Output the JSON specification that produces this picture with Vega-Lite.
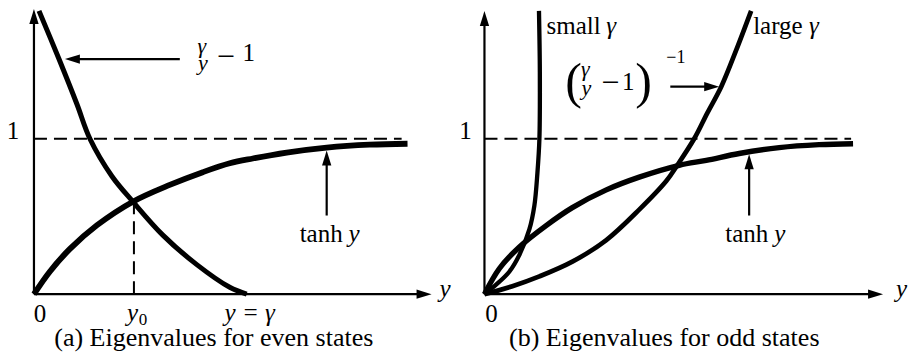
{
  "$schema": "https://vega.github.io/schema/vega-lite/v6.json",
  "width": 908,
  "height": 362,
  "autosize": {"type": "fit", "contains": "padding"},
  "padding": 0,
  "background": "white",
  "config": {"view": {"stroke": null}, "font": "Liberation Serif, Times New Roman, DejaVu Serif, serif"},
  "datasets": {
    "curvesA": [
      {"c": "tanh", "i": 0, "x": 0, "y": 0},
      {"c": "tanh", "i": 1, "x": 0.111, "y": 0.146},
      {"c": "tanh", "i": 2, "x": 0.25, "y": 0.291},
      {"c": "tanh", "i": 3, "x": 0.4375, "y": 0.443},
      {"c": "tanh", "i": 4, "x": 0.6875, "y": 0.595},
      {"c": "tanh", "i": 5, "x": 0.944, "y": 0.703},
      {"c": "tanh", "i": 6, "x": 1.174, "y": 0.785},
      {"c": "tanh", "i": 7, "x": 1.361, "y": 0.842},
      {"c": "tanh", "i": 8, "x": 1.521, "y": 0.873},
      {"c": "tanh", "i": 9, "x": 1.757, "y": 0.911},
      {"c": "tanh", "i": 10, "x": 2.035, "y": 0.943},
      {"c": "tanh", "i": 11, "x": 2.333, "y": 0.962},
      {"c": "tanh", "i": 12, "x": 2.597, "y": 0.968},
      {"c": "recip", "i": 0, "x": 0.035, "y": 1.823},
      {"c": "recip", "i": 1, "x": 0.174, "y": 1.513},
      {"c": "recip", "i": 2, "x": 0.299, "y": 1.222},
      {"c": "recip", "i": 3, "x": 0.389, "y": 1.0},
      {"c": "recip", "i": 4, "x": 0.542, "y": 0.759},
      {"c": "recip", "i": 5, "x": 0.688, "y": 0.595},
      {"c": "recip", "i": 6, "x": 0.896, "y": 0.38},
      {"c": "recip", "i": 7, "x": 1.132, "y": 0.19},
      {"c": "recip", "i": 8, "x": 1.361, "y": 0.044},
      {"c": "recip", "i": 9, "x": 1.479, "y": 0}
    ],
    "curvesB": [
      {"c": "tanh", "i": 0, "x": 0, "y": 0},
      {"c": "tanh", "i": 1, "x": 0.104, "y": 0.165},
      {"c": "tanh", "i": 2, "x": 0.243, "y": 0.304},
      {"c": "tanh", "i": 3, "x": 0.431, "y": 0.443},
      {"c": "tanh", "i": 4, "x": 0.611, "y": 0.557},
      {"c": "tanh", "i": 5, "x": 0.847, "y": 0.671},
      {"c": "tanh", "i": 6, "x": 1.076, "y": 0.753},
      {"c": "tanh", "i": 7, "x": 1.354, "y": 0.829},
      {"c": "tanh", "i": 8, "x": 1.542, "y": 0.861},
      {"c": "tanh", "i": 9, "x": 1.771, "y": 0.905},
      {"c": "tanh", "i": 10, "x": 2.049, "y": 0.943},
      {"c": "tanh", "i": 11, "x": 2.326, "y": 0.962},
      {"c": "tanh", "i": 12, "x": 2.5625, "y": 0.968},
      {"c": "small", "i": 0, "x": 0, "y": 0},
      {"c": "small", "i": 1, "x": 0.083, "y": 0.063},
      {"c": "small", "i": 2, "x": 0.174, "y": 0.146},
      {"c": "small", "i": 3, "x": 0.243, "y": 0.253},
      {"c": "small", "i": 4, "x": 0.3125, "y": 0.418},
      {"c": "small", "i": 5, "x": 0.347, "y": 0.57},
      {"c": "small", "i": 6, "x": 0.368, "y": 0.778},
      {"c": "small", "i": 7, "x": 0.382, "y": 1.0},
      {"c": "small", "i": 8, "x": 0.385, "y": 1.43},
      {"c": "small", "i": 9, "x": 0.379, "y": 1.823},
      {"c": "large", "i": 0, "x": 0, "y": 0},
      {"c": "large", "i": 1, "x": 0.194, "y": 0.051},
      {"c": "large", "i": 2, "x": 0.382, "y": 0.114},
      {"c": "large", "i": 3, "x": 0.611, "y": 0.209},
      {"c": "large", "i": 4, "x": 0.847, "y": 0.348},
      {"c": "large", "i": 5, "x": 1.076, "y": 0.544},
      {"c": "large", "i": 6, "x": 1.264, "y": 0.728},
      {"c": "large", "i": 7, "x": 1.34, "y": 0.829},
      {"c": "large", "i": 8, "x": 1.458, "y": 1.0},
      {"c": "large", "i": 9, "x": 1.549, "y": 1.165},
      {"c": "large", "i": 10, "x": 1.646, "y": 1.335},
      {"c": "large", "i": 11, "x": 1.75, "y": 1.57},
      {"c": "large", "i": 12, "x": 1.854, "y": 1.823}
    ]
  },
  "resolve": {"scale": {"x": "independent"}},
  "layer": [
    {
      "encoding": {
        "x": {"field": "x", "type": "quantitative", "scale": {"domain": [-0.2361, 6.0694], "nice": false, "zero": false}, "axis": null},
        "y": {"field": "y", "type": "quantitative", "scale": {"domain": [-0.4367, 1.8544], "nice": false, "zero": false}, "axis": null}
      },
      "layer": [
        {
          "data": {"values": [
            {"x": 0, "y": 0, "x2": 0, "y2": 1.79},
            {"x": 0, "y": 0, "x2": 2.72, "y2": 0},
            {"x": 1.014, "y": 1.513, "x2": 0.26, "y2": 1.513},
            {"x": 2.035, "y": 0.506, "x2": 2.035, "y2": 0.88}
          ]},
          "mark": {"type": "rule", "strokeWidth": 2.2, "color": "black"},
          "encoding": {"x2": {"field": "x2"}, "y2": {"field": "y2"}}
        },
        {
          "data": {"values": [
            {"x": 0, "y": 1.0, "x2": 2.556, "y2": 1.0},
            {"x": 0.695, "y": 0, "x2": 0.695, "y2": 0.59}
          ]},
          "mark": {"type": "rule", "strokeWidth": 2, "strokeDash": [13, 7], "color": "black"},
          "encoding": {"x2": {"field": "x2"}, "y2": {"field": "y2"}}
        },
        {
          "data": {"values": [
            {"d": "up", "x": 0, "y": 1.835},
            {"d": "right", "x": 2.764, "y": 0},
            {"d": "left", "x": 0.215, "y": 1.513},
            {"d": "up", "x": 2.035, "y": 0.925}
          ]},
          "mark": {"type": "point", "filled": true, "size": 225, "color": "black", "opacity": 1, "strokeWidth": 0},
          "encoding": {"shape": {"field": "d", "type": "nominal", "legend": null, "scale": {"domain": ["up", "right", "left"], "range": ["M0,0L-0.62,2L0.62,2Z", "M0,0L-2,-0.62L-2,0.62Z", "M0,0L2,-0.62L2,0.62Z"]}}}
        },
        {
          "data": {"name": "curvesA"},
          "transform": [{"filter": "datum.c === 'tanh'"}],
          "mark": {"type": "line", "interpolate": "catmull-rom", "strokeWidth": 5.8, "color": "black", "strokeCap": "butt"},
          "encoding": {"order": {"field": "i", "type": "quantitative"}}
        },
        {
          "data": {"name": "curvesA"},
          "transform": [{"filter": "datum.c === 'recip'"}],
          "mark": {"type": "line", "interpolate": "catmull-rom", "strokeWidth": 5, "color": "black", "strokeCap": "butt"},
          "encoding": {"order": {"field": "i", "type": "quantitative"}}
        },
        {
          "data": {"values": [
            {"t": "1", "x": -0.146, "y": 1.0},
            {"t": "0", "x": 0.042, "y": -0.177},
            {"t": "1", "x": 1.493, "y": 1.5}
          ]},
          "mark": {"type": "text", "font": "Liberation Serif, Times New Roman, DejaVu Serif, serif", "color": "black", "baseline": "alphabetic", "fontSize": 25, "align": "center"},
          "encoding": {"text": {"field": "t"}}
        },
        {
          "data": {"values": [
            {"t": "−", "x": 1.333, "y": 1.462}
          ]},
          "mark": {"type": "text", "font": "Liberation Serif, Times New Roman, DejaVu Serif, serif", "color": "black", "baseline": "alphabetic", "fontSize": 32, "align": "center"},
          "encoding": {"text": {"field": "t"}}
        },
        {
          "data": {"values": [
            {"t": "tanh", "x": 1.847, "y": 0.335}
          ]},
          "mark": {"type": "text", "font": "Liberation Serif, Times New Roman, DejaVu Serif, serif", "color": "black", "baseline": "alphabetic", "fontSize": 25, "align": "left"},
          "encoding": {"text": {"field": "t"}}
        },
        {
          "data": {"values": [
            {"t": "(a) Eigenvalues for even states", "x": 1.25, "y": -0.335}
          ]},
          "mark": {"type": "text", "font": "Liberation Serif, Times New Roman, DejaVu Serif, serif", "color": "black", "baseline": "alphabetic", "fontSize": 26, "align": "center"},
          "encoding": {"text": {"field": "t"}}
        },
        {
          "data": {"values": [
            {"t": "y", "x": 2.1875, "y": 0.335},
            {"t": "y", "x": 0.646, "y": -0.171},
            {"t": "y", "x": 2.819, "y": -0.019}
          ]},
          "mark": {"type": "text", "font": "Liberation Serif, Times New Roman, DejaVu Serif, serif", "color": "black", "baseline": "alphabetic", "fontSize": 25, "align": "left", "fontStyle": "italic"},
          "encoding": {"text": {"field": "t"}}
        },
        {
          "data": {"values": [
            {"t": "y = γ", "x": 1.5, "y": -0.171}
          ]},
          "mark": {"type": "text", "font": "Liberation Serif, Times New Roman, DejaVu Serif, serif", "color": "black", "baseline": "alphabetic", "fontSize": 25, "align": "center", "fontStyle": "italic"},
          "encoding": {"text": {"field": "t"}}
        },
        {
          "data": {"values": [
            {"t": "0", "x": 0.729, "y": -0.196}
          ]},
          "mark": {"type": "text", "font": "Liberation Serif, Times New Roman, DejaVu Serif, serif", "color": "black", "baseline": "alphabetic", "fontSize": 17, "align": "left"},
          "encoding": {"text": {"field": "t"}}
        },
        {
          "data": {"values": [
            {"t": "γ", "x": 1.167, "y": 1.55},
            {"t": "y", "x": 1.174, "y": 1.44}
          ]},
          "mark": {"type": "text", "font": "Liberation Serif, Times New Roman, DejaVu Serif, serif", "color": "black", "baseline": "alphabetic", "fontSize": 22, "align": "center", "fontStyle": "italic"},
          "encoding": {"text": {"field": "t"}}
        }
      ]
    },
    {
      "encoding": {
        "x": {"field": "x", "type": "quantitative", "scale": {"domain": [-3.368, 2.9375], "nice": false, "zero": false}, "axis": null},
        "y": {"field": "y", "type": "quantitative", "scale": {"domain": [-0.4367, 1.8544], "nice": false, "zero": false}, "axis": null}
      },
      "layer": [
        {
          "data": {"values": [
            {"x": 0, "y": 0, "x2": 0, "y2": 1.78},
            {"x": 0, "y": 0, "x2": 2.73, "y2": 0},
            {"x": 1.292, "y": 1.335, "x2": 1.59, "y2": 1.335},
            {"x": 1.84, "y": 0.506, "x2": 1.84, "y2": 0.86}
          ]},
          "mark": {"type": "rule", "strokeWidth": 2.2, "color": "black"},
          "encoding": {"x2": {"field": "x2"}, "y2": {"field": "y2"}}
        },
        {
          "data": {"values": [
            {"x": 0, "y": 1.0, "x2": 2.549, "y2": 1.0}
          ]},
          "mark": {"type": "rule", "strokeWidth": 2, "strokeDash": [13, 7], "color": "black"},
          "encoding": {"x2": {"field": "x2"}, "y2": {"field": "y2"}}
        },
        {
          "data": {"values": [
            {"d": "up", "x": 0, "y": 1.823},
            {"d": "right", "x": 2.771, "y": 0},
            {"d": "right", "x": 1.632, "y": 1.335},
            {"d": "up", "x": 1.84, "y": 0.9}
          ]},
          "mark": {"type": "point", "filled": true, "size": 225, "color": "black", "opacity": 1, "strokeWidth": 0},
          "encoding": {"shape": {"field": "d", "type": "nominal", "legend": null, "scale": {"domain": ["up", "right", "left"], "range": ["M0,0L-0.62,2L0.62,2Z", "M0,0L-2,-0.62L-2,0.62Z", "M0,0L2,-0.62L2,0.62Z"]}}}
        },
        {
          "data": {"name": "curvesB"},
          "transform": [{"filter": "datum.c === 'tanh'"}],
          "mark": {"type": "line", "interpolate": "catmull-rom", "strokeWidth": 5.4, "color": "black", "strokeCap": "butt"},
          "encoding": {"order": {"field": "i", "type": "quantitative"}}
        },
        {
          "data": {"name": "curvesB"},
          "transform": [{"filter": "datum.c === 'small'"}],
          "mark": {"type": "line", "interpolate": "catmull-rom", "strokeWidth": 4.3, "color": "black", "strokeCap": "butt"},
          "encoding": {"order": {"field": "i", "type": "quantitative"}}
        },
        {
          "data": {"name": "curvesB"},
          "transform": [{"filter": "datum.c === 'large'"}],
          "mark": {"type": "line", "interpolate": "catmull-rom", "strokeWidth": 4.7, "color": "black", "strokeCap": "butt"},
          "encoding": {"order": {"field": "i", "type": "quantitative"}}
        },
        {
          "data": {"values": [
            {"t": "1", "x": -0.132, "y": 1.0},
            {"t": "0", "x": 0.049, "y": -0.177},
            {"t": "1", "x": 1.0, "y": 1.316}
          ]},
          "mark": {"type": "text", "font": "Liberation Serif, Times New Roman, DejaVu Serif, serif", "color": "black", "baseline": "alphabetic", "fontSize": 25, "align": "center"},
          "encoding": {"text": {"field": "t"}}
        },
        {
          "data": {"values": [
            {"t": "−", "x": 0.875, "y": 1.297}
          ]},
          "mark": {"type": "text", "font": "Liberation Serif, Times New Roman, DejaVu Serif, serif", "color": "black", "baseline": "alphabetic", "fontSize": 32, "align": "center"},
          "encoding": {"text": {"field": "t"}}
        },
        {
          "data": {"values": [
            {"t": "small", "x": 0.431, "y": 1.677},
            {"t": "large", "x": 1.868, "y": 1.677},
            {"t": "tanh", "x": 1.674, "y": 0.335}
          ]},
          "mark": {"type": "text", "font": "Liberation Serif, Times New Roman, DejaVu Serif, serif", "color": "black", "baseline": "alphabetic", "fontSize": 25, "align": "left"},
          "encoding": {"text": {"field": "t"}}
        },
        {
          "data": {"values": [
            {"t": "(", "x": 0.5625, "y": 1.265},
            {"t": ")", "x": 1.049, "y": 1.265}
          ]},
          "mark": {"type": "text", "font": "Liberation Serif, Times New Roman, DejaVu Serif, serif", "color": "black", "baseline": "alphabetic", "fontSize": 50, "align": "left"},
          "encoding": {"text": {"field": "t"}}
        },
        {
          "data": {"values": [
            {"t": "−1", "x": 1.264, "y": 1.487}
          ]},
          "mark": {"type": "text", "font": "Liberation Serif, Times New Roman, DejaVu Serif, serif", "color": "black", "baseline": "alphabetic", "fontSize": 18, "align": "left"},
          "encoding": {"text": {"field": "t"}}
        },
        {
          "data": {"values": [
            {"t": "(b) Eigenvalues for odd states", "x": 1.25, "y": -0.335}
          ]},
          "mark": {"type": "text", "font": "Liberation Serif, Times New Roman, DejaVu Serif, serif", "color": "black", "baseline": "alphabetic", "fontSize": 26, "align": "center"},
          "encoding": {"text": {"field": "t"}}
        },
        {
          "data": {"values": [
            {"t": "γ", "x": 0.847, "y": 1.677},
            {"t": "γ", "x": 2.257, "y": 1.677},
            {"t": "y", "x": 2.014, "y": 0.335},
            {"t": "y", "x": 2.861, "y": -0.019}
          ]},
          "mark": {"type": "text", "font": "Liberation Serif, Times New Roman, DejaVu Serif, serif", "color": "black", "baseline": "alphabetic", "fontSize": 25, "align": "left", "fontStyle": "italic"},
          "encoding": {"text": {"field": "t"}}
        },
        {
          "data": {"values": [
            {"t": "γ", "x": 0.701, "y": 1.405},
            {"t": "y", "x": 0.708, "y": 1.28}
          ]},
          "mark": {"type": "text", "font": "Liberation Serif, Times New Roman, DejaVu Serif, serif", "color": "black", "baseline": "alphabetic", "fontSize": 22, "align": "center", "fontStyle": "italic"},
          "encoding": {"text": {"field": "t"}}
        }
      ]
    }
  ]
}
